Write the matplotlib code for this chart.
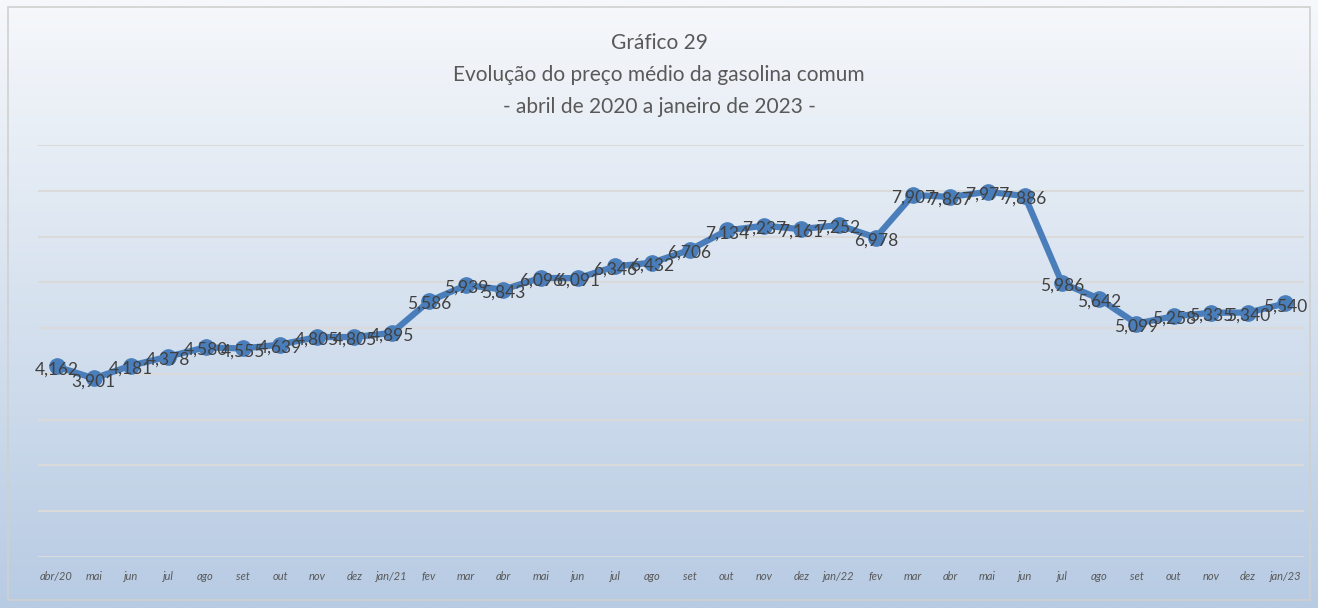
import numpy as np
import matplotlib
matplotlib.use('Agg')
from matplotlib import pyplot as plt
from matplotlib.colors import LinearSegmentedColormap
from matplotlib.patches import Rectangle

plt.rcParams['font.family'] = ['Lato', 'DejaVu Sans']

months = ['abr/20', 'mai', 'jun', 'jul', 'ago', 'set', 'out', 'nov', 'dez',
          'jan/21', 'fev', 'mar', 'abr', 'mai', 'jun', 'jul', 'ago', 'set',
          'out', 'nov', 'dez', 'jan/22', 'fev', 'mar', 'abr', 'mai', 'jun',
          'jul', 'ago', 'set', 'out', 'nov', 'dez', 'jan/23']
prices = [4.162, 3.901, 4.181, 4.378, 4.580, 4.555, 4.639, 4.805, 4.805,
          4.895, 5.586, 5.939, 5.843, 6.096, 6.091, 6.346, 6.432, 6.706,
          7.134, 7.237, 7.161, 7.252, 6.978, 7.907, 7.867, 7.977, 7.886,
          5.986, 5.642, 5.099, 5.258, 5.335, 5.340, 5.540]
title = 'Gráfico 29\nEvolução do preço médio da gasolina comum\n- abril de 2020 a janeiro de 2023 -'

fig = plt.figure(figsize=(13.18, 6.08), dpi=100)

# background gradient (white at top to light blue at bottom)
bg = fig.add_axes([0, 0, 1, 1], zorder=0)
cmap = LinearSegmentedColormap.from_list('bg', ['#b7cbe3', '#f6f8fb'])
grad = np.linspace(0, 1, 256).reshape(-1, 1)
bg.imshow(grad, aspect='auto', cmap=cmap, origin='lower', extent=[0, 1, 0, 1])
bg.add_patch(Rectangle((0.006, 0.013), 0.988, 0.975, fill=False,
                       edgecolor='#d0d0d0', linewidth=1.2,
                       transform=bg.transAxes))
bg.set_xlim(0, 1)
bg.set_ylim(0, 1)
bg.axis('off')

ax = fig.add_axes([0.0288, 0.0839, 0.9606, 0.6776], zorder=1)
ax.set_facecolor('none')

x = np.arange(len(months))
ax.plot(x, prices, color='#4a7ebb', linewidth=4.5, marker='o',
        markersize=11, markerfacecolor='#4a7ebb', markeredgecolor='#4a7ebb',
        solid_joinstyle='round', zorder=3)

for xi, v in zip(x, prices):
    ax.annotate(f'{v:.3f}'.replace('.', ','), (xi, v), xytext=(0, -2),
                textcoords='offset points', ha='center', va='center',
                fontsize=12.5, color='#404040', zorder=4)

ax.set_xlim(-0.5, len(months) - 0.5)
ax.set_ylim(0, 9)
ax.set_yticks(np.arange(0, 10, 1))
ax.yaxis.grid(True, color='#dadada', linewidth=1.5)
ax.set_axisbelow(True)
ax.tick_params(axis='y', left=False, labelleft=False)
ax.set_xticks(x)
ax.set_xticklabels(months, fontsize=8, color='#595959', style='italic')
ax.tick_params(axis='x', length=0, pad=10)
for s in ax.spines.values():
    s.set_visible(False)

fig.text(0.5, 0.945, title, ha='center', va='top', fontsize=15,
         color='#595959', linespacing=1.75)

plt.savefig('out.png', dpi=100)
